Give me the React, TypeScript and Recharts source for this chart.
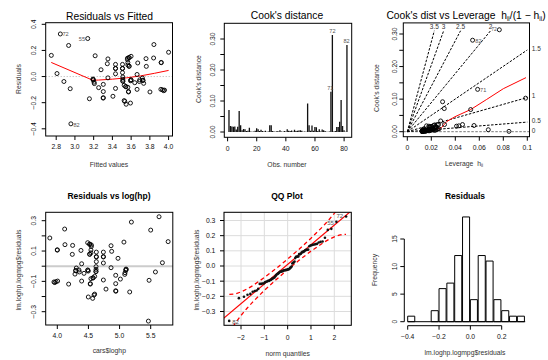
import React from 'react';
import {
  ComposedChart,
  Scatter,
  Line,
  Bar,
  XAxis,
  YAxis,
  ReferenceLine,
  ReferenceDot,
  CartesianGrid,
} from 'recharts';

const W = 548;
const H = 360;
const FONT = '"Liberation Sans", Arial, Helvetica, sans-serif';
const RED = '#ff0000';

// ---- data ----
const logHp = [
  3.88, 4.118, 4.0, 4.123, 4.246, 4.241, 4.38, 4.488, 4.52, 4.547,
  4.52, 4.54, 4.627, 4.627, 4.74, 4.74, 4.74, 4.863, 4.873, 4.975,
  5.07, 5.19, 5.5, 5.634, 5.78, 5.688, 5.576, 5.474, 5.463, 5.163,
  5.104, 5.099, 5.088, 5.083, 5.013, 4.938, 4.938, 4.938, 4.863, 4.782,
  4.74, 4.622, 4.622, 4.622, 4.6, 4.573, 4.54, 4.6, 4.568, 4.498,
  4.53, 4.498, 4.488, 4.429, 4.391, 4.391, 4.348, 4.354, 4.305, 4.295,
  4.284, 4.182, 4.005, 3.979, 3.946, 4.94, 4.59, 3.96, 4.53, 4.575,
  5.106, 4.62, 4.297, 4.49, 4.627, 4.52, 4.627, 4.74, 4.54, 4.0,
  4.52, 4.547,
];
const residuals = [
  0.186, 0.245, 0.106, 0.142, 0.137, 0.078, 0.104, 0.155, 0.144, 0.14,
  0.078, 0.107, 0.093, 0.063, 0.093, 0.063, 0.021, 0.135, 0.098, 0.052,
  0.159, 0.291, 0.238, 0.326, 0.162, 0.023, -0.038, -0.093, -0.362, -0.17,
  -0.019, -0.027, -0.043, -0.054, -0.085, -0.06, -0.115, -0.162, -0.01, -0.151,
  -0.091, -0.003, -0.021, -0.034, -0.067, -0.078, -0.082, -0.184, -0.212, -0.203,
  -0.115, -0.032, -0.027, -0.047, 0.016, -0.098, -0.025, -0.038, -0.012, -0.03,
  -0.052, -0.118, -0.098, -0.102, -0.104, -0.165, -0.19, -0.108, -0.118, -0.076,
  -0.022, -0.036, -0.028, -0.025, 0.03, 0.08, 0.061, 0.061, 0.088, 0.108,
  0.146, 0.13,
];
// lm(logmpg ~ loghp) coefficients
const fitIntercept = 6.557;
const fitSlope = -0.659;

const fittedSmoothX = [2.747, 3.19, 3.25, 3.4, 3.55, 3.7, 3.85, 4.0];
const fittedSmoothY = [0.108, -0.028, -0.027, -0.02, -0.01, 0.005, 0.025, 0.047];

const cooksD = [
  0.071, 0.019, 0.018, 0.017, 0.018, 0.008, 0.017, 0.068, 0.022, 0.006,
  0.01, 0.009, 0.003, 0.004, 0.014, 0.002, 0.001, 0.002, 0.004, 0.012,
  0.009, 0.003, 0.007, 0.003, 0.002, 0.004, 0.001, 0.002, 0.022, 0.022,
  0.003, 0.002, 0.001, 0.003, 0.002, 0.006, 0.002, 0.001, 0.003, 0.002,
  0.009, 0.004, 0.003, 0.005, 0.002, 0.007, 0.003, 0.004, 0.005, 0.006,
  0.004, 0.001, 0.002, 0.001, 0.092, 0.022, 0.004, 0.021, 0.004, 0.016,
  0.015, 0.003, 0.009, 0.002, 0.008, 0.006, 0.003, 0.001, 0.001, 0.002,
  0.13, 0.313, 0.002, 0.003, 0.016, 0.016, 0.033, 0.103, 0.019, 0.006,
  0.001, 0.281,
];
const leverage = [
  0.0308, 0.0556, 0.043, 0.041, 0.016, 0.0135, 0.018, 0.0528, 0.031, 0.0128,
  0.021, 0.019, 0.0125, 0.014, 0.024, 0.0131, 0.0124, 0.015, 0.017, 0.023,
  0.02, 0.0145, 0.022, 0.0136, 0.0127, 0.0165, 0.0123, 0.0142, 0.025, 0.026,
  0.0155, 0.0133, 0.0124, 0.0175, 0.0138, 0.0205, 0.0129, 0.0125, 0.0185, 0.0132,
  0.0215, 0.016, 0.0148, 0.0235, 0.0126, 0.0245, 0.0152, 0.0195, 0.0168, 0.0675,
  0.0225, 0.0128, 0.0158, 0.0124, 0.0294, 0.046, 0.0178, 0.0228, 0.0139, 0.0205,
  0.0188, 0.0146, 0.0265, 0.013, 0.0255, 0.0212, 0.0162, 0.0847, 0.0127, 0.0144,
  0.0586, 0.0767, 0.0126, 0.0153, 0.0198, 0.0238, 0.0278, 0.0986, 0.0218, 0.0172,
  0.013, 0.0544,
];
const leverageSmoothH = [0.0111, 0.0189, 0.0244, 0.0286, 0.0328, 0.0397, 0.0528, 0.0661, 0.08, 0.0989];
const leverageSmoothD = [0.007, 0.005, 0.007, 0.013, 0.031, 0.046, 0.068, 0.099, 0.132, 0.166];

const contourLabels = ['0.5', '1', '1.5', '2', '2.5', '3', '3.5'];
const contourEndH = [0.1, 0.1, 0.1, 0.0694, 0.0444, 0.0303, 0.0225];
const contourEndD = [0.0295, 0.105, 0.251, 0.31, 0.31, 0.31, 0.31];

const histBreaks = [-0.4, -0.35, -0.3, -0.25, -0.2, -0.15, -0.1, -0.05, 0, 0.05, 0.1, 0.15, 0.2, 0.25, 0.3, 0.35];
const histCounts = [1, 0, 0, 2, 6, 7, 12, 19, 4, 12, 11, 4, 2, 1, 1];

const qqEnvZ = [-2.5, -2.25, -2, -1.75, -1.5, -1, -0.5, 0, 0.5, 1, 1.5, 1.75, 2, 2.25, 2.5];
const qqEnvUpper = [-0.187, -0.184, -0.171, -0.152, -0.13, -0.076, -0.017, 0.046, 0.112, 0.183, 0.259, 0.301, 0.347, 0.399, 0.46];
const qqEnvLower = [-0.439, -0.378, -0.326, -0.28, -0.238, -0.161, -0.091, -0.024, 0.039, 0.098, 0.151, 0.174, 0.192, 0.205, 0.209];
const qqLineZ = [-2.8, 2.8];
const qqLineY = [-0.352, 0.373];

// ---- derived series ----
const fittedPts = logHp.map((h, i) => ({ x: fitIntercept + fitSlope * h, y: residuals[i] }));
const hpPts = logHp.map((h, i) => ({ x: h, y: residuals[i] }));
const cooksBars = cooksD.map((d, i) => ({ x: i + 1, y: d }));
const levPts = leverage.map((h, i) => ({ x: h, y: cooksD[i] }));
const histBars = histCounts.map((c, i) => ({ x: (histBreaks[i] + histBreaks[i + 1]) / 2, y: c }));
const pair = (xs: number[], ys: number[]) => xs.map((x, i) => ({ x, y: ys[i] }));

// inverse normal cdf (Acklam) for the theoretical quantiles
function qnorm(p: number): number {
  const a = [-39.69683028665376, 220.9460984245205, -275.9285104469687, 138.357751867269, -30.66479806614716, 2.506628277459239];
  const b = [-54.47609879822406, 161.5858368580409, -155.6989798598866, 66.80131188771972, -13.28068155288572];
  const c = [-0.007784894002430293, -0.3223964580411365, -2.400758277161838, -2.549732539343734, 4.374664141464968, 2.938163982698783];
  const d = [0.007784695709041462, 0.3224671290700398, 2.445134137142996, 3.754408661907416];
  const tail = (q: number) =>
    (((((c[0] * q + c[1]) * q + c[2]) * q + c[3]) * q + c[4]) * q + c[5]) /
    ((((d[0] * q + d[1]) * q + d[2]) * q + d[3]) * q + 1);
  if (p < 0.02425) return tail(Math.sqrt(-2 * Math.log(p)));
  if (p > 1 - 0.02425) return -tail(Math.sqrt(-2 * Math.log(1 - p)));
  const q = p - 0.5;
  const r = q * q;
  return ((((((a[0] * r + a[1]) * r + a[2]) * r + a[3]) * r + a[4]) * r + a[5]) * q) /
    (((((b[0] * r + b[1]) * r + b[2]) * r + b[3]) * r + b[4]) * r + 1);
}
const sortedRes = [...residuals].sort((u, v) => u - v);
const qqPts = sortedRes.map((y, i) => ({ x: qnorm((i + 0.5) / sortedRes.length), y }));

// ---- layout (pixel boxes of the six plot regions) ----
type Geo = { l: number; r: number; t: number; b: number };
const g1: Geo = { l: 45.7, r: 172.5, t: 22.7, b: 136 };
const g2: Geo = { l: 224.3, r: 351.7, t: 23.3, b: 137.3 };
const g3: Geo = { l: 403.3, r: 529.5, t: 22.9, b: 136.7 };
const g4: Geo = { l: 45.7, r: 172.8, t: 212.3, b: 325 };
const g5: Geo = { l: 224, r: 351.3, t: 212.3, b: 325.3 };
const g6: Geo = { l: 404.3, r: 529.9, t: 212.8, b: 325.7 };

const lin = (p0: number, v0: number, p1: number, v1: number) => (p: number) => v0 + ((p - p0) * (v1 - v0)) / (p1 - p0);
const xDom = (g: Geo, p0: number, v0: number, p1: number, v1: number): [number, number] => {
  const f = lin(p0, v0, p1, v1);
  return [f(g.l), f(g.r)];
};
const yDom = (g: Geo, p0: number, v0: number, p1: number, v1: number): [number, number] => {
  const f = lin(p0, v0, p1, v1);
  return [f(g.b), f(g.t)];
};

const x1d = xDom(g1, 56.2, 2.8, 168.6, 4.0);
const y1d = yDom(g1, 24.3, 0.4, 128.8, -0.4);
const x2d = xDom(g2, 227.6, 0, 344.1, 80);
const y2d = yDom(g2, 132, 0, 39, 0.3);
const x3d = xDom(g3, 407.3, 0, 527.3, 0.1);
const y3d = yDom(g3, 131.7, 0, 34, 0.3);
const x4d = xDom(g4, 57.3, 4.0, 150.7, 5.5);
const y4d = yDom(g4, 220.7, 0.3, 311.7, -0.3);
const x5d = xDom(g5, 241, -2, 334.3, 2);
const y5d = yDom(g5, 220.5, 0.3, 311.5, -0.3);
const x6d = xDom(g6, 407.7, -0.4, 501.7, 0.2);
const y6d = yDom(g6, 321.7, 0, 239, 15);
const histBarPx = ((histBreaks[1] - histBreaks[0]) * (g6.r - g6.l)) / (x6d[1] - x6d[0]);

const num = (v: number, d: number) => v.toFixed(d).replace('-', '\u2212');
const TICK = 6.8;

const xTick = (fmt: (v: number) => string | null, off = 11) => (p: any) => {
  const s = fmt(p.payload.value);
  if (!s) return <g />;
  return (
    <text x={p.x} y={p.y - 4 + off + 2.4} textAnchor="middle" fontSize={TICK} fontFamily={FONT} fill="#111">
      {s}
    </text>
  );
};
const yTickRot = (fmt: (v: number) => string | null, off = 12) => (p: any) => {
  const s = fmt(p.payload.value);
  if (!s) return <g />;
  const x = p.x + 4 - off + 2.4;
  return (
    <text x={x} y={p.y} transform={`rotate(-90 ${x} ${p.y})`} textAnchor="middle" fontSize={TICK} fontFamily={FONT} fill="#111">
      {s}
    </text>
  );
};
const yTickFlat = (fmt: (v: number) => string | null, off = 8.6) => (p: any) => (
  <text x={p.x + 4 - off} y={p.y + 2.4} textAnchor="end" fontSize={TICK} fontFamily={FONT} fill="#111">
    {fmt(p.payload.value)}
  </text>
);

const ring = (p: any) => <circle cx={p.cx} cy={p.cy} r={2} fill="none" stroke="#000" strokeWidth={0.9} />;
const dot = (p: any) => <circle cx={p.cx} cy={p.cy} r={1.3} fill="#111" />;
const note = (text: string, anchor: 'start' | 'middle' | 'end', size = 5.6, fill = '#555') => (p: any) => (
  <text x={p.cx} y={p.cy + size * 0.36} textAnchor={anchor} fontSize={size} fontFamily={FONT} fill={fill}>
    {text}
  </text>
);

const margin = (g: Geo) => ({ top: g.t, right: W - g.r, bottom: 0, left: 0 });
const layer: React.CSSProperties = { position: 'absolute', left: 0, top: 0 };
const axisCommon = { type: 'number' as const, allowDataOverflow: true, interval: 0 as const, axisLine: false, tickSize: 4, tickMargin: 0, tickLine: { stroke: '#000' } };

const tenth = (v: number) => (Math.abs(Math.round(v * 100)) % 10 === 0 ? v.toFixed(2) : null);

const Texts = () => {
  const t = { fontFamily: FONT };
  const rot = (x: number, y: number, s: React.ReactNode, size = 6.8, fill = '#333') => (
    <text x={x} y={y} transform={`rotate(-90 ${x} ${y})`} textAnchor="middle" fontSize={size} fill={fill} {...t}>
      {s}
    </text>
  );
  const boxes = [g1, g2, g3, g4, g5];
  return (
    <svg width={W} height={H} style={{ ...layer, pointerEvents: 'none' }}>
      {boxes.map((g, i) => (
        <rect key={i} x={g.l} y={g.t} width={g.r - g.l} height={g.b - g.t} fill="none" stroke="#000" strokeWidth={1} />
      ))}
      <text x={109.5} y={19.7} textAnchor="middle" fontSize={10.3} {...t}>Residuals vs Fitted</text>
      <text x={287} y={19.3} textAnchor="middle" fontSize={10.3} {...t}>Cook's distance</text>
      <text x={466} y={18.6} textAnchor="middle" fontSize={10.3} {...t}>
        Cook's dist vs Leverage{'\u00a0\u00a0'}h<tspan fontSize={6.5} dy={2}>ii</tspan>
        <tspan dy={-2}>/(1 {'\u2212'} h</tspan>
        <tspan fontSize={6.5} dy={2}>ii</tspan>
        <tspan dy={-2}>)</tspan>
      </text>
      <text x={109} y={199.3} textAnchor="middle" fontSize={8.5} fontWeight="bold" {...t}>Residuals vs log(hp)</text>
      <text x={287} y={198.7} textAnchor="middle" fontSize={8.5} fontWeight="bold" {...t}>QQ Plot</text>
      <text x={465} y={199.3} textAnchor="middle" fontSize={8.5} fontWeight="bold" {...t}>Residuals</text>

      <text x={109} y={166.7} textAnchor="middle" fontSize={6.8} fill="#333" {...t}>Fitted values</text>
      <text x={287} y={166.7} textAnchor="middle" fontSize={6.8} fill="#333" {...t}>Obs. number</text>
      <text x={464} y={165.7} textAnchor="middle" fontSize={6.8} fill="#333" {...t}>
        Leverage{'\u00a0\u00a0'}h<tspan fontSize={4.6} dy={1.5}>ii</tspan>
      </text>
      <text x={109.3} y={353.3} textAnchor="middle" fontSize={6.8} fill="#333" {...t}>cars$loghp</text>
      <text x={287.7} y={355.7} textAnchor="middle" fontSize={6.8} fill="#333" {...t}>norm quantiles</text>
      <text x={465} y={355} textAnchor="middle" fontSize={6.8} fill="#333" {...t}>lm.loghp.logmpg$residuals</text>

      {rot(21, 79, 'Residuals')}
      {rot(200.7, 79, "Cook's distance")}
      {rot(379.3, 88, "Cook's distance")}
      {rot(20.7, 270, 'lm.loghp.logmpg$residuals')}
      {rot(199.3, 270, 'lm.loghp.logmpg$residuals')}
      {rot(376.8, 270, 'Frequency')}
    </svg>
  );
};

export default function App() {
  return (
    <div style={{ position: 'fixed', left: 0, top: 0, width: W, height: H, background: '#fff', fontFamily: FONT }}>
      {/* 1: residuals vs fitted */}
      <div style={layer}>
        <ComposedChart width={W} height={H} margin={margin(g1)}>
          <XAxis {...axisCommon} dataKey="x" domain={x1d} height={H - g1.b} ticks={[2.8, 3.0, 3.2, 3.4, 3.6, 3.8, 4.0]} tick={xTick((v) => v.toFixed(1))} />
          <YAxis {...axisCommon} dataKey="y" domain={y1d} width={g1.l} ticks={[-0.4, -0.2, 0, 0.2, 0.4]} tick={yTickRot((v) => num(v, 1))} />
          <ReferenceLine y={0} stroke="#b0b0b0" strokeDasharray="1 2" />
          <Scatter data={fittedPts} shape={ring} isAnimationActive={false} />
          <Line data={pair(fittedSmoothX, fittedSmoothY)} dataKey="y" type="linear" dot={false} stroke={RED} strokeWidth={1} isAnimationActive={false} />
          <ReferenceDot x={2.867} y={0.324} ifOverflow="visible" shape={note('72', 'start')} />
          <ReferenceDot x={3.108} y={0.288} ifOverflow="visible" shape={note('55', 'end')} />
          <ReferenceDot x={2.984} y={-0.374} ifOverflow="visible" shape={note('82', 'start')} />
        </ComposedChart>
      </div>

      {/* 2: cook's distance by observation */}
      <div style={layer}>
        <ComposedChart width={W} height={H} margin={margin(g2)} data={cooksBars}>
          <XAxis {...axisCommon} dataKey="x" domain={x2d} height={H - g2.b} ticks={[0, 20, 40, 60, 80]} tick={xTick((v) => String(v))} />
          <YAxis {...axisCommon} dataKey="y" domain={y2d} width={g2.l} ticks={[0, 0.05, 0.1, 0.15, 0.2, 0.25, 0.3]} tick={yTickRot(tenth)} />
          <Bar dataKey="y" fill="#111" barSize={1.5} isAnimationActive={false} />
          <ReferenceDot x={72} y={0.326} ifOverflow="visible" shape={note('72', 'middle')} />
          <ReferenceDot x={81.7} y={0.293} ifOverflow="visible" shape={note('82', 'middle')} />
          <ReferenceDot x={70.5} y={0.141} ifOverflow="visible" shape={note('71', 'middle')} />
        </ComposedChart>
      </div>

      {/* 3: cook's distance vs leverage */}
      <div style={layer}>
        <ComposedChart width={W} height={H} margin={margin(g3)}>
          <XAxis {...axisCommon} dataKey="x" domain={x3d} height={H - g3.b} ticks={[0, 0.02, 0.04, 0.06, 0.08, 0.1]} tick={xTick((v) => (v === 0 ? '0' : String(v)))} />
          <YAxis {...axisCommon} dataKey="y" domain={y3d} width={g3.l} ticks={[0, 0.05, 0.1, 0.15, 0.2, 0.25, 0.3]} tick={yTickRot(tenth, 9)} />
          <ReferenceLine y={0} stroke="#777" strokeDasharray="2.5 1.5" />
          {contourLabels.map((lab, i) => (
            <ReferenceLine
              key={lab}
              segment={[{ x: 0, y: 0 }, { x: contourEndH[i], y: contourEndD[i] }]}
              stroke="#000"
              strokeDasharray="2.5 1.5"
              ifOverflow="visible"
            />
          ))}
          {contourLabels.map((lab, i) =>
            contourEndH[i] >= 0.1 ? (
              <ReferenceDot key={'l' + lab} x={0.1037} y={contourEndD[i] + 0.005} ifOverflow="visible" shape={note(lab, 'start', 6.5, '#333')} />
            ) : (
              <ReferenceDot key={'l' + lab} x={contourEndH[i]} y={0.322} ifOverflow="visible" shape={note(lab, 'middle', 6.5, '#333')} />
            ),
          )}
          <ReferenceDot x={0.1037} y={0.003} ifOverflow="visible" shape={note('0', 'start', 6.5, '#333')} />
          <Scatter data={levPts} shape={ring} isAnimationActive={false} />
          <Line data={pair(leverageSmoothH, leverageSmoothD)} dataKey="y" type="linear" dot={false} stroke={RED} strokeWidth={1} isAnimationActive={false} />
          <ReferenceDot x={0.0567} y={0.278} ifOverflow="visible" shape={note('82', 'start')} />
          <ReferenceDot x={0.0606} y={0.127} ifOverflow="visible" shape={note('71', 'start')} />
          <ReferenceDot x={0.0745} y={0.316} ifOverflow="visible" shape={note('72', 'end', 5)} />
        </ComposedChart>
      </div>

      {/* 4: residuals vs log(hp) */}
      <div style={layer}>
        <ComposedChart width={W} height={H} margin={margin(g4)}>
          <XAxis {...axisCommon} dataKey="x" domain={x4d} height={H - g4.b} ticks={[4.0, 4.5, 5.0, 5.5]} tick={xTick((v) => v.toFixed(1))} />
          <YAxis
            {...axisCommon}
            dataKey="y"
            domain={y4d}
            width={g4.l}
            ticks={[-0.3, -0.2, -0.1, 0, 0.1, 0.2, 0.3]}
            tick={yTickRot((v) => (Math.abs(Math.round(v * 10)) % 2 === 1 ? num(v, 1) : null))}
          />
          <ReferenceLine y={0} stroke="#cccccc" strokeWidth={2} />
          <Scatter data={hpPts} shape={ring} isAnimationActive={false} />
        </ComposedChart>
      </div>

      {/* 5: QQ plot */}
      <div style={layer}>
        <ComposedChart width={W} height={H} margin={margin(g5)}>
          <CartesianGrid stroke="#dcdcdc" />
          <XAxis {...axisCommon} dataKey="x" domain={x5d} height={H - g5.b} ticks={[-2, -1, 0, 1, 2]} tick={xTick((v) => num(v, 0), 12.5)} />
          <YAxis {...axisCommon} dataKey="y" domain={y5d} width={g5.l} ticks={[-0.3, -0.2, -0.1, 0, 0.1, 0.2, 0.3]} tick={yTickFlat((v) => num(v, 1))} />
          <Line data={pair(qqLineZ, qqLineY)} dataKey="y" type="linear" dot={false} stroke={RED} strokeWidth={1.2} isAnimationActive={false} />
          <Line data={pair(qqEnvZ, qqEnvUpper)} dataKey="y" type="linear" dot={false} stroke={RED} strokeWidth={1.3} strokeDasharray="4 3" isAnimationActive={false} />
          <Line data={pair(qqEnvZ, qqEnvLower)} dataKey="y" type="linear" dot={false} stroke={RED} strokeWidth={1.3} strokeDasharray="4 3" isAnimationActive={false} />
          <Scatter data={qqPts} shape={dot} isAnimationActive={false} />
          <ReferenceDot x={2.38} y={0.33} ifOverflow="visible" shape={note('72', 'end', 6)} />
          <ReferenceDot x={1.98} y={0.285} ifOverflow="visible" shape={note('55', 'end', 6)} />
          <ReferenceDot x={-2.38} y={-0.365} ifOverflow="visible" shape={note('82', 'start', 6)} />
        </ComposedChart>
      </div>

      {/* 6: histogram of residuals */}
      <div style={layer}>
        <ComposedChart width={W} height={H} margin={margin(g6)} data={histBars} barCategoryGap={0} barGap={0}>
          <XAxis {...axisCommon} dataKey="x" domain={x6d} height={H - g6.b} ticks={[-0.4, -0.2, 0, 0.2]} tick={xTick((v) => num(v, 1))} />
          <YAxis {...axisCommon} dataKey="y" domain={y6d} width={g6.l} ticks={[0, 5, 10, 15]} tick={yTickRot((v) => String(v), 10)} />
          <ReferenceLine segment={[{ x: histBreaks[0], y: 0 }, { x: histBreaks[histBreaks.length - 1], y: 0 }]} stroke="#000" ifOverflow="visible" />
          <Bar dataKey="y" fill="#fff" stroke="#000" strokeWidth={1} barSize={histBarPx} isAnimationActive={false} />
          <ReferenceLine segment={[{ x: -0.4, y: y6d[0] }, { x: 0.2, y: y6d[0] }]} stroke="#000" ifOverflow="visible" />
          <ReferenceLine segment={[{ x: x6d[0], y: 0 }, { x: x6d[0], y: 15 }]} stroke="#000" ifOverflow="visible" />
        </ComposedChart>
      </div>

      <Texts />
    </div>
  );
}
